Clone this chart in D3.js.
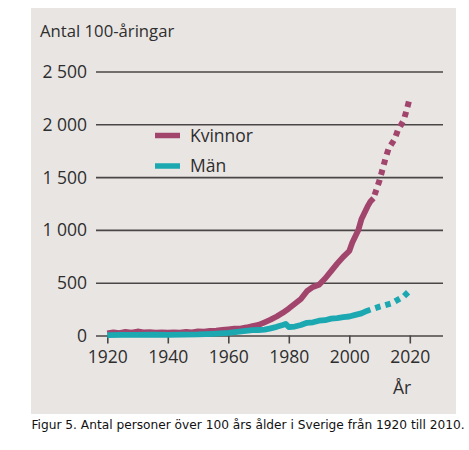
<!DOCTYPE html>
<html>
<head>
<meta charset="utf-8">
<script src="https://cdn.jsdelivr.net/npm/d3@7"></script>
<style>
  html, body { margin: 0; padding: 0; background: #ffffff; }
  svg { display: block; }
</style>
</head>
<body>
<script>
// ---- Data ----
const kvinnorYears = [1920,1922,1924,1926,1928,1930,1932,1934,1936,1938,1940,1942,1944,1946,1948,1950,1952,1954,1956,1958,1960,1962,1964,1966,1968,1970,1972,1974,1976,1978,1980,1982,1984,1986,1988,1990,1992,1994,1996,1998,2000,2001,2002,2003,2004,2005,2006,2007,2008];
const kvinnorValues = [20,30,22,34,28,38,30,32,28,30,26,30,28,34,30,40,36,44,46,52,58,64,66,76,88,100,125,150,180,215,255,300,345,420,460,480,540,610,680,745,800,880,940,1000,1100,1160,1220,1270,1300];
const kvinnorProjYears = [2008,2010,2011,2012,2013,2015,2016,2018,2019,2020];
const kvinnorProjValues = [1300,1470,1575,1680,1770,1860,1940,2040,2140,2250];

const manYears = [1920,1925,1930,1935,1940,1945,1950,1955,1960,1963,1965,1968,1970,1972,1974,1976,1978,1979,1980,1982,1984,1986,1988,1990,1992,1994,1996,1998,2000,2002,2004,2006,2007];
const manValues = [4,6,5,7,5,8,10,16,25,35,42,50,52,55,68,82,100,110,80,85,100,120,125,140,145,160,165,175,180,195,210,235,245];
const manProjYears = [2007,2010,2014,2018,2020];
const manProjValues = [245,273,305,370,425];

const yTicks = [0,500,1000,1500,2000,2500];
const xTicks = [1920,1940,1960,1980,2000,2020];
const seriesNames = ["Kvinnor","Män"];
const title = "Antal 100-åringar";
const xTitle = "År";
const caption = "Figur 5. Antal personer över 100 års ålder i Sverige från 1920 till 2010.";

// ---- Styles ----
const W = 469, H = 450;
const colK = "#a2456d", colM = "#1ba8b1";
const bg = "#e9e5e3";
const textCol = "#2e2e2e";
const font = "'Open Sans', 'Noto Sans', sans-serif";

const svg = d3.select("body").append("svg").attr("width", W).attr("height", H);

svg.append("rect").attr("x", 31).attr("y", 8).attr("width", 425).attr("height", 406).attr("fill", bg);

const x = d3.scaleLinear().domain([1920, 2020]).range([107.3, 409.8]);
const y = d3.scaleLinear().domain([0, 2500]).range([335.5, 71.5]);

const sv = d3.formatLocale({decimal: ",", thousands: " ", grouping: [3], currency: ["", ""]});
const fmt = sv.format(",d");

const gridLeft = 96, gridRight = 443;

// y axis with gridlines
const yAxis = svg.append("g")
  .attr("transform", `translate(${gridLeft},0)`)
  .call(d3.axisLeft(y).tickValues(yTicks).tickFormat(fmt).tickSize(-(gridRight - gridLeft)).tickPadding(9));
yAxis.select(".domain").remove();
yAxis.selectAll(".tick line").attr("stroke", "#4a4646").attr("stroke-width", 1.6);
yAxis.selectAll(".tick text").attr("font-family", font).attr("font-size", 17.5).attr("fill", textCol).attr("dy", "0.34em");

// x axis ticks
const xAxis = svg.append("g")
  .attr("transform", `translate(0,${y(0)})`)
  .call(d3.axisBottom(x).tickValues(xTicks).tickFormat(d3.format("d")).tickSize(8).tickPadding(7));
xAxis.select(".domain").remove();
xAxis.selectAll(".tick line").attr("stroke", "#4a4646").attr("stroke-width", 1.6);
xAxis.selectAll(".tick text").attr("font-family", font).attr("font-size", 17.5).attr("fill", textCol);

const line = d3.line().x(d => x(d[0])).y(d => y(d[1]));
const zip = (a, b) => a.map((v, i) => [v, b[i]]);

// Kvinnor
svg.append("path").datum(zip(kvinnorYears, kvinnorValues))
  .attr("d", line).attr("fill", "none").attr("stroke", colK).attr("stroke-width", 5.8)
  .attr("stroke-linejoin", "round");
svg.append("path").datum(zip(kvinnorProjYears, kvinnorProjValues))
  .attr("d", line).attr("fill", "none").attr("stroke", colK).attr("stroke-width", 6)
  .attr("stroke-dasharray", "5.5,5").attr("stroke-dashoffset", -14);

// Män
svg.append("path").datum(zip(manYears, manValues))
  .attr("d", line).attr("fill", "none").attr("stroke", colM).attr("stroke-width", 5.8)
  .attr("stroke-linejoin", "round");
svg.append("path").datum(zip(manProjYears, manProjValues))
  .attr("d", line).attr("fill", "none").attr("stroke", colM).attr("stroke-width", 6)
  .attr("stroke-dasharray", "5.5,5").attr("stroke-dashoffset", -5);

// Legend
const legend = svg.append("g");
[colK, colM].forEach((c, i) => {
  const ly = 135.5 + i * 30.5;
  legend.append("line").attr("x1", 155).attr("x2", 180).attr("y1", ly).attr("y2", ly)
    .attr("stroke", c).attr("stroke-width", 5.5);
  legend.append("text").attr("x", 190).attr("y", ly).attr("dy", "0.36em")
    .attr("font-family", font).attr("font-size", 17.5).attr("fill", textCol).text(seriesNames[i]);
});

// Titles
svg.append("text").attr("x", 40).attr("y", 37).attr("font-family", font).attr("font-size", 16.7)
  .attr("fill", textCol).text(title);
svg.append("text").attr("x", 402).attr("y", 394).attr("text-anchor", "middle")
  .attr("font-family", font).attr("font-size", 17.5).attr("fill", textCol).text(xTitle);

svg.append("text").attr("x", 31.5).attr("y", 429).attr("font-family", "'DejaVu Sans', Verdana, sans-serif")
  .attr("font-size", 12.2).attr("fill", "#111").text(caption);
</script>
</body>
</html>
